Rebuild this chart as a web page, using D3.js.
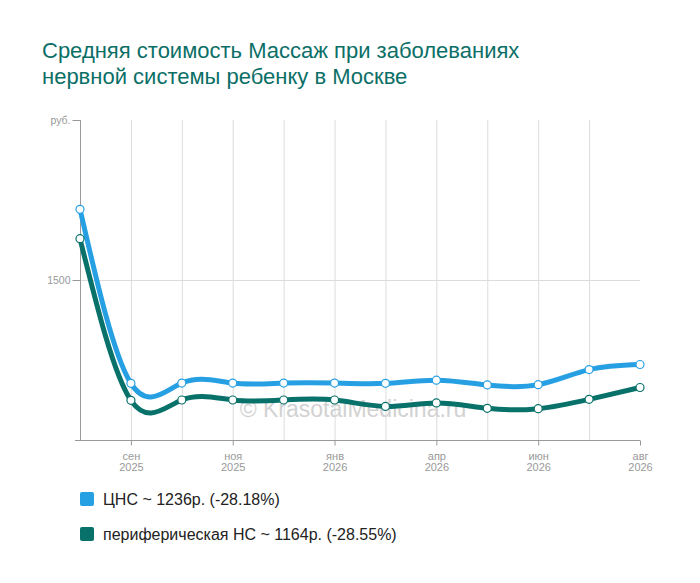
<!DOCTYPE html>
<html>
<head>
<meta charset="utf-8">
<script src="https://cdn.jsdelivr.net/npm/d3@7"></script>
<style>
  body { margin: 0; background: #fff; }
  svg { font-family: Arial, "Liberation Sans", sans-serif; }
</style>
</head>
<body>
<svg id="chart" width="700" height="583"></svg>
<script>
/* Chart data */
const months = ["авг", "сен", "окт", "ноя", "дек", "янв", "мар", "апр", "май", "июн", "июл", "авг"];
const years = ["2025", "2025", "2025", "2025", "2025", "2026", "2026", "2026", "2026", "2026", "2026", "2026"];
const labelledIndexes = [1, 3, 5, 7, 9, 11];
const seriesNames = ["ЦНС", "периферическая НС"];
const cnsValues = [1721, 1177, 1178, 1178, 1178, 1178, 1177, 1187, 1172, 1173, 1220, 1236];
const peripheralValues = [1629, 1124, 1125, 1125, 1125, 1125, 1105, 1116, 1099, 1098, 1127, 1164];
const yTicks = [1500, 2000];

const colors = ["#27a0e3", "#08716a"];
const titleLines = ["Средняя стоимость Массаж при заболеваниях", "нервной системы ребенку в Москве"];

const svg = d3.select("#chart");

// Title
svg.append("text")
  .attr("x", 42)
  .attr("y", 58)
  .attr("fill", "#0b6f67")
  .attr("font-size", 22)
  .selectAll("tspan")
  .data(titleLines)
  .join("tspan")
  .attr("x", 42)
  .attr("dy", (d, i) => i === 0 ? 0 : 25.5)
  .text(d => d);

// Scales
const x = d3.scalePoint()
  .domain(d3.range(months.length))
  .range([80, 640]);
const y = d3.scaleLinear()
  .domain([1000, 2000])
  .range([440, 120]);

// Grid lines
const grid = svg.append("g").attr("stroke", "#dcdcdc").attr("stroke-width", 1);
grid.selectAll("line.v")
  .data(d3.range(1, months.length - 1))
  .join("line")
  .attr("class", "v")
  .attr("x1", d => x(d) + 0.5)
  .attr("x2", d => x(d) + 0.5)
  .attr("y1", y(2000))
  .attr("y2", y(1000));
grid.selectAll("line.h")
  .data([1500])
  .join("line")
  .attr("class", "h")
  .attr("x1", x(0))
  .attr("x2", x(months.length - 1))
  .attr("y1", d => y(d) + 0.5)
  .attr("y2", d => y(d) + 0.5);

// Y axis
const yAxis = svg.append("g")
  .attr("transform", `translate(${x(0) + 0.5},0)`)
  .call(d3.axisLeft(y)
    .tickValues(yTicks)
    .tickSize(8)
    .tickPadding(2)
    .tickFormat(d => d === 2000 ? "руб." : d));
yAxis.select(".domain").attr("stroke", "#999").attr("d", `M0,${y(2000)}V${y(1000)}`);
yAxis.selectAll(".tick line").attr("stroke", "#999");
yAxis.selectAll(".tick text").attr("fill", "#999").attr("font-size", 10.5)
  .attr("font-family", "Arial, 'Liberation Sans', sans-serif");

// X axis
const xAxis = svg.append("g").attr("transform", `translate(0,${y(1000) + 0.5})`);
xAxis.append("line")
  .attr("x1", 75)
  .attr("x2", x(months.length - 1))
  .attr("stroke", "#999");
const xTick = xAxis.selectAll("g.tick")
  .data(labelledIndexes)
  .join("g")
  .attr("class", "tick")
  .attr("transform", d => `translate(${x(d) + 0.5},0)`);
xTick.append("line").attr("y2", 5).attr("stroke", "#999");
const xLabel = xTick.append("text")
  .attr("text-anchor", "middle")
  .attr("fill", "#999")
  .attr("font-size", 11);
xLabel.append("tspan").attr("x", 0).attr("y", 19).text(d => months[d]);
xLabel.append("tspan").attr("x", 0).attr("y", 30).text(d => years[d]);

// Watermark
svg.append("text")
  .attr("x", 353)
  .attr("y", 417)
  .attr("text-anchor", "middle")
  .attr("font-size", 23)
  .attr("fill", "#d2d2d2")
  .text("© KrasotaiMedicina.ru");

// Lines
const series = [cnsValues, peripheralValues];
const line = d3.line()
  .x((d, i) => x(i))
  .y(d => y(d))
  .curve(d3.curveNatural);

const seriesGroup = svg.selectAll("g.series")
  .data(series)
  .join("g")
  .attr("class", "series");
seriesGroup.append("path")
  .attr("d", d => line(d))
  .attr("fill", "none")
  .attr("stroke", (d, i) => colors[i])
  .attr("stroke-width", 5)
  .attr("stroke-linejoin", "round")
  .attr("stroke-linecap", "round");
seriesGroup.each(function(values, si) {
  d3.select(this).selectAll("circle")
    .data(values)
    .join("circle")
    .attr("cx", (d, i) => x(i))
    .attr("cy", d => y(d))
    .attr("r", 4)
    .attr("fill", "#fff")
    .attr("stroke", colors[si])
    .attr("stroke-width", 1.2);
});

// Legend
const legend = svg.selectAll("g.legend")
  .data(series)
  .join("g")
  .attr("class", "legend")
  .attr("transform", (d, i) => `translate(80,${492 + i * 35})`);
legend.append("rect")
  .attr("width", 14)
  .attr("height", 14)
  .attr("rx", 2)
  .attr("fill", (d, i) => colors[i]);
legend.append("text")
  .attr("x", 23)
  .attr("y", 13)
  .attr("font-size", 16)
  .attr("fill", "#222")
  .text((d, i) => {
    const last = d[d.length - 1];
    const change = (last - d[0]) / d[0] * 100;
    return `${seriesNames[i]} ~ ${last}р. (${change.toFixed(2)}%)`;
  });
</script>
</body>
</html>
